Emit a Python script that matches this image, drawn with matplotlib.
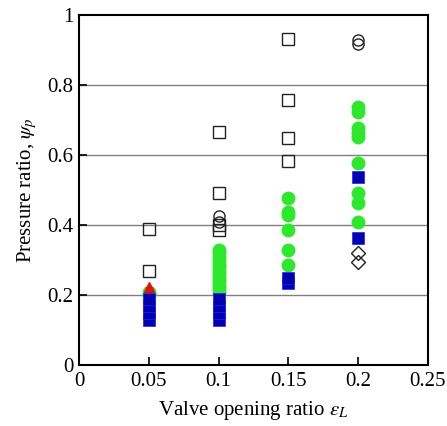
import matplotlib
matplotlib.use('Agg')
import matplotlib.pyplot as plt

plt.rcParams['font.family'] = 'Liberation Serif'
plt.rcParams['mathtext.fontset'] = 'stix'

# open squares
sq_x = [0.05, 0.05, 0.1, 0.1, 0.1, 0.1, 0.15, 0.15, 0.15, 0.15]
sq_y = [0.39, 0.27, 0.665, 0.49, 0.40, 0.385, 0.93, 0.757, 0.648, 0.582]
# open circles
oc_x = [0.1, 0.1, 0.2, 0.2]
oc_y = [0.425, 0.41, 0.929, 0.918]
# open diamonds
dm_x = [0.2, 0.2]
dm_y = [0.32, 0.294]
# green filled circles
gc_x = [0.05, 0.05,
        0.1, 0.1, 0.1, 0.1, 0.1, 0.1, 0.1, 0.1, 0.1, 0.1, 0.1, 0.1, 0.1,
        0.15, 0.15, 0.15, 0.15, 0.15, 0.15,
        0.2, 0.2, 0.2, 0.2, 0.2, 0.2, 0.2, 0.2, 0.2]
gc_y = [0.21, 0.2,
        0.21, 0.22, 0.23, 0.24, 0.25, 0.26, 0.27, 0.28, 0.29, 0.30, 0.31, 0.32, 0.33,
        0.477, 0.437, 0.428, 0.386, 0.329, 0.286,
        0.737, 0.723, 0.677, 0.663, 0.651, 0.577, 0.491, 0.463, 0.409]
# blue filled squares
bs_x = [0.05, 0.05, 0.05, 0.05, 0.1, 0.1, 0.1, 0.1, 0.15, 0.15, 0.2, 0.2]
bs_y = [0.13, 0.15, 0.17, 0.19, 0.13, 0.15, 0.17, 0.19, 0.235, 0.25, 0.537, 0.363]
# red triangle
rt_x = [0.05]
rt_y = [0.222]

fig = plt.figure(figsize=(4.47, 4.26), dpi=100)
ax = fig.add_axes([0.177, 0.143, 0.78, 0.822])

for yv in [0.2, 0.4, 0.6, 0.8]:
    ax.axhline(yv, color='#808080', lw=1.0, zorder=0)

ax.plot(gc_x, gc_y, 'o', color='#2ee82e', ms=9, mec='#2ee82e', ls='none')
ax.plot(bs_x, bs_y, 's', color='#0000b0', ms=9, mec='#2020ff', mew=0.5, ls='none')
ax.plot(rt_x, rt_y, '^', color='#e01010', ms=7, ls='none')
ax.plot(sq_x, sq_y, 's', mfc='none', mec='#222222', ms=9, mew=1.0, ls='none')
ax.plot(oc_x, oc_y, 'o', mfc='none', mec='#222222', ms=8, mew=1.0, ls='none')
ax.plot(dm_x, dm_y, 'D', mfc='none', mec='#222222', ms=7, mew=1.0, ls='none')

ax.set_xlim(0, 0.25)
ax.set_ylim(0, 1)
ax.set_xticks([0, 0.05, 0.1, 0.15, 0.2, 0.25])
ax.set_xticklabels(['0', '0.05', '0.1', '0.15', '0.2', '0.25'])
ax.set_yticks([0, 0.2, 0.4, 0.6, 0.8, 1])
ax.set_yticklabels(['0', '0.2', '0.4', '0.6', '0.8', '1'])
ax.tick_params(direction='in', length=6, width=1.2, labelsize=15)
ax.tick_params(axis='x', pad=5)
ax.tick_params(axis='y', pad=4)
for s in ax.spines.values():
    s.set_linewidth(1.5)

ax.set_xlabel(r'Valve opening ratio $\varepsilon_L$', fontsize=15, labelpad=6)
ax.set_ylabel(r'Pressure ratio, $\psi_p$', fontsize=15, labelpad=6)

plt.savefig('out.png', dpi=100)
